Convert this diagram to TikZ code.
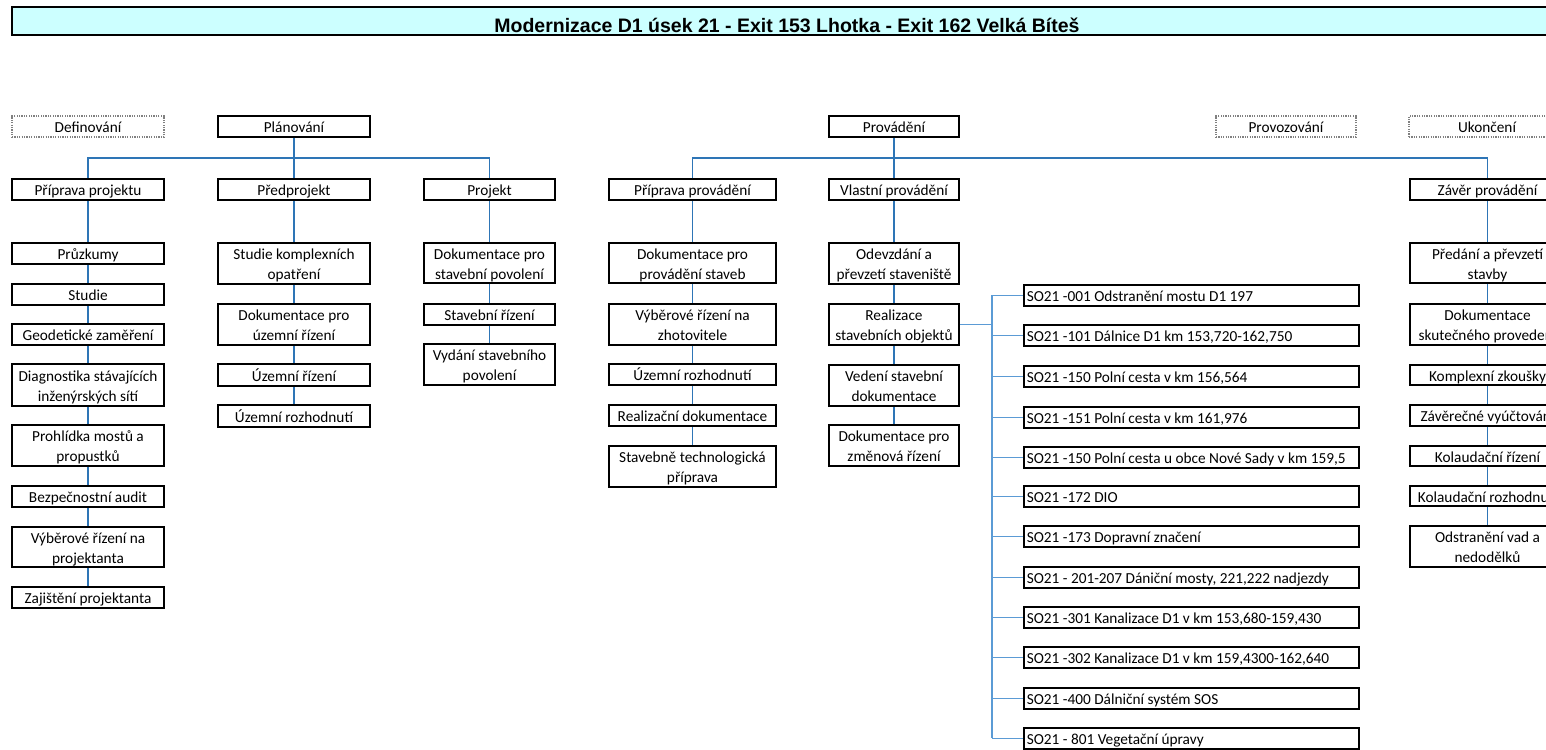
\documentclass[tikz,border=0pt]{standalone}
\usepackage{fontspec}
\setmainfont{Carlito}
\newfontfamily\titlefont{Liberation Sans}

\definecolor{linkblue}{HTML}{2E75B6}
\definecolor{branchblue}{HTML}{5B9BD5}
\definecolor{titlefill}{HTML}{CCFFFF}

\tikzset{
  box/.style={draw=black, line width=1.5bp, fill=white, rectangle, inner sep=0pt,
    font=\fontsize{15.3bp}{20bp}\selectfont},
  dotbox/.style={box, draw=gray, line width=1.6bp, dash pattern=on 1.2bp off 1.2bp},
  titlebox/.style={draw=black, line width=1.7bp, fill=titlefill, rectangle, inner sep=0pt,
    font=\titlefont\bfseries\fontsize{19.5bp}{22bp}\selectfont},
  link/.style={draw=linkblue, line width=1.5bp},
  branch/.style={draw=branchblue, line width=1.5bp},
}

% box given by its corners (x1,y1)-(x2,y2); the text is centred, lines split by \\
\newcommand\cell[7][box]{%
  \node[#1, minimum width={(#5-#3)*1bp}, minimum height={(#6-#4)*1bp}] (#2)
    at ({(#3+#5)/2},{(#4+#6)/2})
    {\raisebox{-2bp}[\height][\depth]{\begin{tabular}{@{}c@{}}#7\end{tabular}}};}

% building-object box: fixed width, text set flush left
\newcommand\socell[3]{%
  \node[box, anchor=north west, minimum width=335bp, minimum height=21bp] (#1) at (1023,#2)
    {\raisebox{-2bp}[\height][\depth]{\makebox[335bp][l]{\hspace*{3bp}\strut #3}}};}

\begin{document}
\begin{tikzpicture}[x=1bp, y=-1bp]
\useasboundingbox (0,0) rectangle (1546,750);
\fill[white] (0,0) rectangle (1546,750);
\clip (0,0) rectangle (1546,750);

% heading
\node[titlebox, minimum width=1550bp, minimum height=28bp] (title) at (787,21)
  {\raisebox{-4bp}[\height][\depth]{Modernizace D1 úsek 21 - Exit 153 Lhotka - Exit 162 Velká Bíteš}};

% project phases
\cell[dotbox]{def}{12}{116}{164}{137}{Definování}
\cell{plan}{218}{116}{370}{137}{Plánování}
\cell{prov}{829}{116}{959}{137}{Provádění}
\cell[dotbox]{provoz}{1216}{116}{1356}{137}{Provozování}
\cell[dotbox]{ukon}{1409}{116}{1565}{137}{Ukončení}

% sub-phases
\cell{pp}{12}{179}{164}{200}{Příprava projektu}
\cell{predp}{218}{179}{370}{200}{Předprojekt}
\cell{proj}{424}{179}{555}{200}{Projekt}
\cell{ppr}{609}{179}{776}{200}{Příprava provádění}
\cell{vp}{829}{179}{959}{200}{Vlastní provádění}
\cell{zp}{1410}{179}{1565}{200}{Závěr provádění}

% Příprava projektu
\cell{a1}{12}{243}{164}{264}{Průzkumy}
\cell{a2}{12}{284}{164}{305}{Studie}
\cell{a3}{12}{324}{164}{345}{Geodetické zaměření}
\cell{a4}{12}{364}{164}{406}{Diagnostika stávajících\\inženýrských sítí}
\cell{a5}{12}{425}{164}{466}{Prohlídka mostů a\\propustků}
\cell{a6}{12}{486}{164}{507}{Bezpečnostní audit}
\cell{a7}{12}{527}{164}{567}{Výběrové řízení na\\projektanta}
\cell{a8}{12}{587}{164}{608}{Zajištění projektanta}

% Předprojekt
\cell{b1}{218}{243}{370}{284}{Studie komplexních\\opatření}
\cell{b2}{218}{304}{370}{345}{Dokumentace pro\\územní řízení}
\cell{b3}{218}{364}{370}{386}{Územní řízení}
\cell{b4}{218}{405}{370}{427}{Územní rozhodnutí}

% Projekt
\cell{c1}{424}{243}{555}{283}{Dokumentace pro\\stavební povolení}
\cell{c2}{424}{304}{555}{325}{Stavební řízení}
\cell{c3}{424}{344}{555}{385}{Vydání stavebního\\povolení}

% Příprava provádění
\cell{d1}{609}{243}{776}{283}{Dokumentace pro\\provádění staveb}
\cell{d2}{609}{304}{776}{345}{Výběrové řízení na\\zhotovitele}
\cell{d3}{609}{364}{776}{385}{Územní rozhodnutí}
\cell{d4}{609}{405}{776}{426}{Realizační dokumentace}
\cell{d5}{609}{446}{776}{487}{Stavebně technologická\\příprava}

% Vlastní provádění
\cell{e1}{829}{243}{959}{284}{Odevzdání a\\převzetí staveniště}
\cell{e2}{829}{304}{959}{345}{Realizace\\stavebních objektů}
\cell{e3}{829}{365}{959}{406}{Vedení stavební\\dokumentace}
\cell{e4}{829}{425}{959}{466}{Dokumentace pro\\změnová řízení}

% Závěr provádění
\cell{f1}{1410}{243}{1565}{283}{Předání a převzetí\\stavby}
\cell{f2}{1410}{304}{1565}{345}{Dokumentace\\skutečného provedení}
\cell{f3}{1410}{365}{1565}{385}{Komplexní zkoušky}
\cell{f4}{1410}{405}{1565}{426}{Závěrečné vyúčtování}
\cell{f5}{1410}{446}{1565}{466}{Kolaudační řízení}
\cell{f6}{1410}{486}{1565}{506}{Kolaudační rozhodnutí}
\cell{f7}{1410}{526}{1565}{567}{Odstranění vad a\\nedodělků}

% building objects
\socell{so1}{284}{SO21 -001 Odstranění mostu D1 197}
\socell{so2}{324}{SO21 -101 Dálnice D1 km 153,720-162,750}
\socell{so3}{365}{SO21 -150 Polní cesta v km 156,564}
\socell{so4}{406}{SO21 -151 Polní cesta v km 161,976}
\socell{so5}{446}{SO21 -150 Polní cesta u obce Nové Sady v km 159,5}
\socell{so6}{485}{SO21 -172 DIO}
\socell{so7}{525}{SO21 -173 Dopravní značení}
\socell{so8}{566}{SO21 - 201-207 Dániční mosty, 221,222 nadjezdy}
\socell{so9}{606}{SO21 -301 Kanalizace D1 v km 153,680-159,430}
\socell{so10}{646}{SO21 -302 Kanalizace D1 v km 159,4300-162,640}
\socell{so11}{687}{SO21 -400 Dálniční systém SOS}
\socell{so12}{727}{SO21 - 801 Vegetační úpravy}

% phase buses
\coordinate (bus) at (0,158);
\draw[link] (plan.south) -- (predp.north);
\draw[link] (pp.north) -- (pp.north |- bus) -- (proj.north |- bus) -- (proj.north);
\draw[link] (prov.south) -- (vp.north);
\draw[link] (ppr.north) -- (ppr.north |- bus) -- (zp.north |- bus) -- (zp.north);

% column chains
\foreach \u/\v in {pp/a1,a1/a2,a2/a3,a3/a4,a4/a5,a5/a6,a6/a7,a7/a8,
                   predp/b1,b1/b2,b2/b3,b3/b4,
                   proj/c1,c1/c2,c2/c3,
                   ppr/d1,d1/d2,d2/d3,d3/d4,d4/d5,
                   vp/e1,e1/e2,e2/e3,e3/e4,
                   zp/f1,f1/f2,f2/f3,f3/f4,f4/f5,f5/f6,f6/f7}
  \draw[link] (\u.south) -- (\v.north);

% building-object tree
\coordinate (trunk) at (992,0);
\draw[branch] (e2.east) -- (e2.east -| trunk);
\draw[branch] (so1.west -| trunk) -- (so12.west -| trunk);
\foreach \i in {1,...,12}
  \draw[branch] (so\i.west) -- (so\i.west -| trunk);
\end{tikzpicture}
\end{document}
